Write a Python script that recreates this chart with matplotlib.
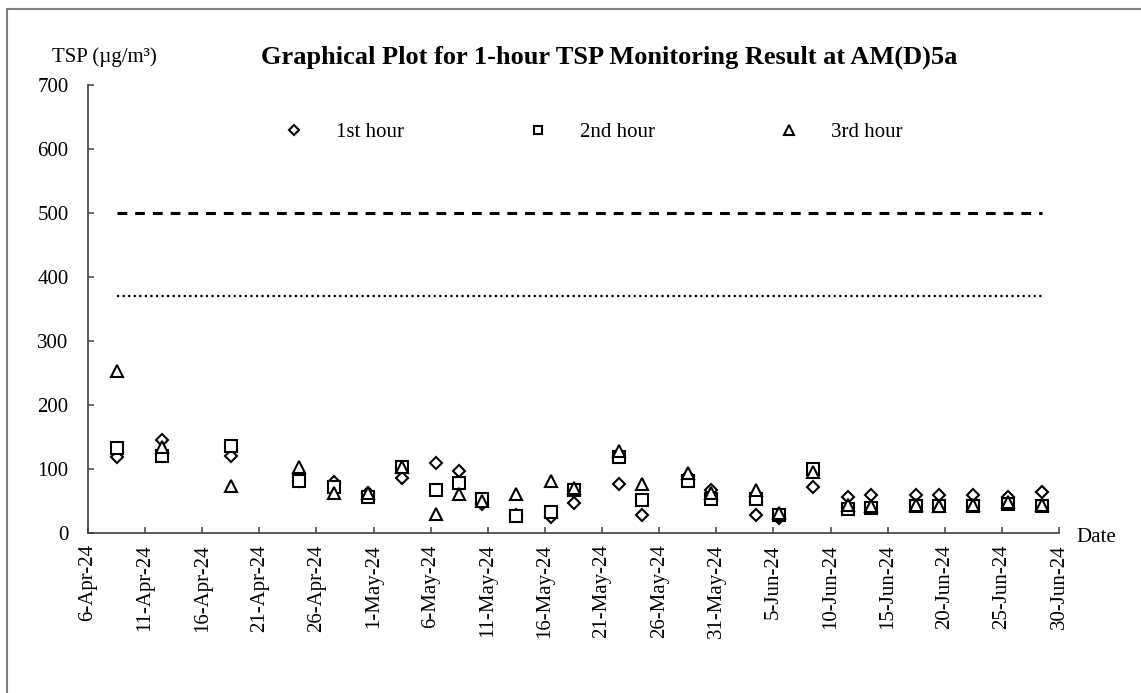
"""
plot.py

Graphical plot for 1-hour TSP monitoring result at AM(D)5a.
"""

import matplotlib
matplotlib.use("Agg")

import matplotlib.pyplot as plt
import matplotlib.dates as mdates
import pandas as pd
from matplotlib.patches import Rectangle

# -----------------------------
# Data
# -----------------------------
dates = [
    "2024-04-08", "2024-04-12", "2024-04-18", "2024-04-24", "2024-04-27",
    "2024-04-30", "2024-05-03", "2024-05-06", "2024-05-08", "2024-05-10",
    "2024-05-13", "2024-05-16", "2024-05-18", "2024-05-22", "2024-05-24",
    "2024-05-28", "2024-05-30", "2024-06-03", "2024-06-05", "2024-06-08",
    "2024-06-11", "2024-06-13", "2024-06-17", "2024-06-19", "2024-06-22",
    "2024-06-25", "2024-06-28",
]

hour_1 = [119, 146, 120, 82, 80, 63, 87, 110, 97, 45, 28, 26, 48, 77, 28,
          90, 67, 29, 24, 72, 57, 59, 60, 59, 60, 57, 64]
hour_2 = [133, 121, 136, 81, 73, 56, 104, 68, 78, 53, 27, 33, 67, 119, 52,
          81, 53, 53, 28, 101, 38, 40, 43, 42, 43, 46, 43]
hour_3 = [253, 135, 74, 103, 63, 63, 104, 30, 61, 50, 61, 82, 70, 129, 77,
          94, 63, 68, 32, 96, 44, 42, 44, 42, 44, 49, 44]

limit_level = 500
action_level = 370

FONT = "Liberation Serif"
plt.rcParams["font.family"] = [FONT, "DejaVu Serif"]

# Excel plots the points in the middle of each day
x = pd.to_datetime(dates) + pd.Timedelta(hours=12)

fig = plt.figure(figsize=(11.41, 6.93), dpi=100)
ax = fig.add_axes([0.0771, 0.2305, 0.8511, 0.6468])

marker_style = dict(
    linestyle="none",
    markerfacecolor="white",
    markeredgecolor="black",
    markeredgewidth=1.5,
)

ax.plot(x, hour_1, marker="D", markersize=6.5, label="1st hour", **marker_style)
ax.plot(x, hour_2, marker="s", markersize=8, label="2nd hour", **marker_style)
ax.plot(x, hour_3, marker="^", markersize=8.5, label="3rd hour", **marker_style)

# Limit / action level lines
ax.plot(x, [limit_level] * len(x), color="black", linestyle=(0, (3.2, 2.6)),
        linewidth=2.2)
ax.plot(x, [action_level] * len(x), color="black", linestyle=(0, (1, 1.5)),
        linewidth=1.6)

# -----------------------------
# Axes
# -----------------------------
ax.set_xlim(pd.Timestamp("2024-04-06"), pd.Timestamp("2024-06-30"))
ax.set_ylim(0, 700)

ticks = pd.date_range("2024-04-06", "2024-06-30", freq="5D")
ax.set_xticks(ticks)
ax.xaxis.set_major_formatter(mdates.DateFormatter("%-d-%b-%y"))
ax.set_yticks(range(0, 701, 100))

for side in ["top", "right"]:
    ax.spines[side].set_visible(False)
for side in ["left", "bottom"]:
    ax.spines[side].set_color("#404040")
    ax.spines[side].set_linewidth(1.2)

ax.tick_params(axis="both", direction="in", length=4, width=1.1,
               color="#404040", labelsize=15)
ax.tick_params(axis="y", pad=14)
ax.tick_params(axis="x", pad=8)
plt.setp(ax.get_xticklabels(), rotation=90, ha="center")

# -----------------------------
# Text
# -----------------------------
fig.text(0.046, 0.918, "TSP (\u00b5g/m\u00b3)", fontsize=15, va="center")
fig.text(0.534, 0.918,
         "Graphical Plot for 1-hour TSP Monitoring Result at AM(D)5a",
         fontsize=19, fontweight="bold", ha="center", va="center")
fig.text(0.943, 0.225, "Date", fontsize=15, va="center")

fig.legend(
    loc="center",
    bbox_to_anchor=(0.515, 0.8095),
    ncol=3,
    frameon=False,
    fontsize=15,
    handlelength=2,
    handletextpad=1,
    columnspacing=5.45,
    markerscale=0.8,
)

# Outer chart border
fig.patches.append(Rectangle((0.006, -0.05), 1.1, 1.037,
                             transform=fig.transFigure, fill=False,
                             edgecolor="#7f7f7f", linewidth=1.5))

plt.savefig("out.png")
plt.close()
